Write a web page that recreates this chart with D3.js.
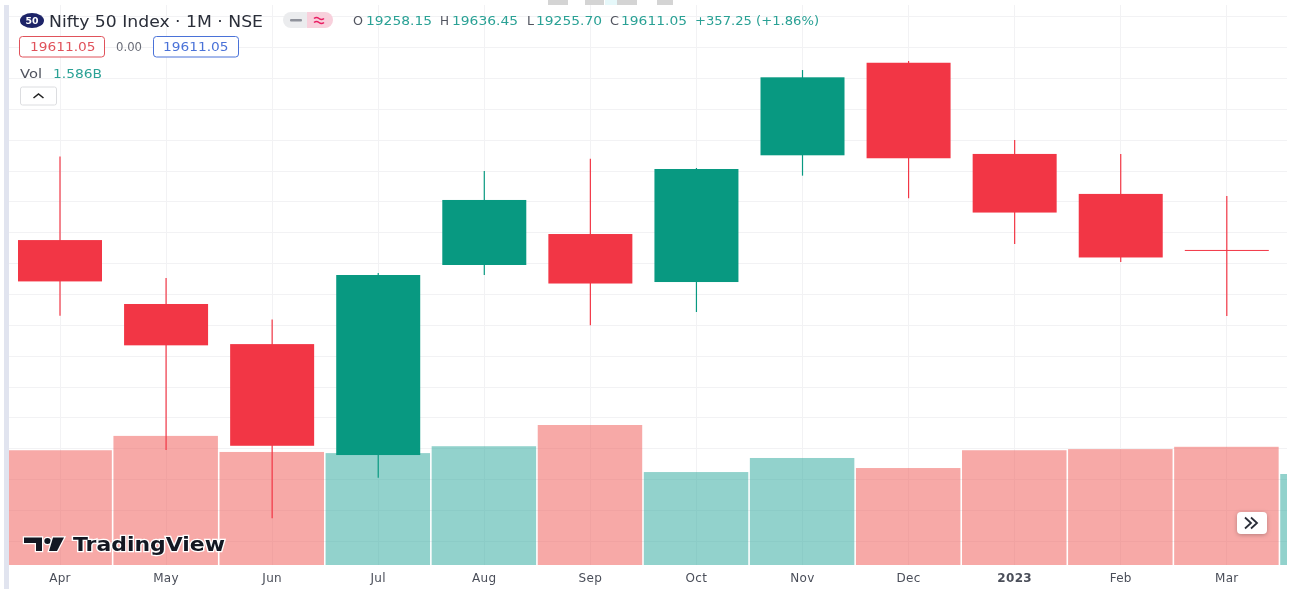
<!DOCTYPE html>
<html><head><meta charset="utf-8">
<script src="https://cdn.jsdelivr.net/npm/d3@7/dist/d3.min.js"></script>
<style>html,body{margin:0;padding:0;background:#fff}svg{display:block;filter:blur(.35px)}text{font-family:"DejaVu Sans",sans-serif}</style>
</head><body><svg id="c" width="1295" height="589"></svg>
<script>
const months=["Apr","May","Jun","Jul","Aug","Sep","Oct","Nov","Dec","2023","Feb","Mar"];
const opens=[17437,16919,16594,15695,17235,17486,17097,18124,18874,18135,17811,17357];
const highs=[18114,17130,16793,17170,17997,18096,18021,18815,18888,18248,18135,17794];
const lows=[16824,15735,15183,15511,17154,16747,16854,17959,17776,17405,17259,16822];
const closes=[17102,16584,15770,17154,17762,17085,18013,18756,18100,17660,17296,17357];
const candleUp=[false,false,false,true,true,false,true,true,false,false,false,false];
const volumes=[2.00,2.25,1.97,1.95,2.07,2.44,1.62,1.865,1.69,2.00,2.02,2.06,1.586];
const volUp=[false,false,false,true,true,false,true,true,false,false,false,false,true];
const gridPrices=d3.range(15000,20001,250);

const svg=d3.select("#c");
const idx=d3.scaleLinear().domain([0,11]).range([60,1226.8]);
const y=d3.scaleLinear().domain([18000,15000]).range([170.6,540.8]);
const yv=d3.scaleLinear().domain([0,1.586]).range([565,474]);
const step=idx(1)-idx(0);
const green="#089981",red="#f23645",teal="#2aa195",tickFill="#4a4e59";

svg.append("rect").attr("x",4).attr("y",5).attr("width",5).attr("height",584).attr("fill","#e1e4ef");
[[548,20],[585,19],[617,20],[657,16]].forEach(d=>svg.append("rect").attr("x",d[0]).attr("y",0).attr("width",d[1]).attr("height",5).attr("fill","#d4d4d4"));
svg.append("rect").attr("x",605).attr("y",0).attr("width",12).attr("height",5).attr("fill","#e6f8fa");

svg.append("defs").append("clipPath").attr("id","plot").append("rect").attr("x",9).attr("y",5).attr("width",1278).attr("height",560);
const plot=svg.append("g").attr("clip-path","url(#plot)");

plot.append("g").selectAll("line").data(gridPrices).join("line")
 .attr("x1",9).attr("x2",1287).attr("y1",d=>Math.round(y(d))+.5).attr("y2",d=>Math.round(y(d))+.5).attr("stroke","#f2f2f4");
plot.append("g").selectAll("line").data(months).join("line")
 .attr("x1",(d,i)=>Math.floor(idx(i))+.5).attr("x2",(d,i)=>Math.floor(idx(i))+.5).attr("y1",5).attr("y2",565).attr("stroke","#f2f2f4");

plot.append("g").selectAll("rect").data(volumes).join("rect")
 .attr("x",(d,i)=>idx(i)-step/2+.4).attr("width",step-1.6)
 .attr("y",d=>yv(d)).attr("height",d=>565-yv(d))
 .attr("fill",(d,i)=>volUp[i]?"#26a69a":"#ef5350").attr("fill-opacity",.5);

const g=plot.append("g").selectAll("g").data(opens).join("g");
g.append("line").attr("x1",(d,i)=>idx(i)).attr("x2",(d,i)=>idx(i))
 .attr("y1",(d,i)=>y(highs[i])).attr("y2",(d,i)=>y(lows[i]))
 .attr("stroke-width",1.2).attr("stroke",(d,i)=>candleUp[i]?green:red);
g.append("rect").attr("x",(d,i)=>idx(i)-42).attr("width",84)
 .attr("y",(d,i)=>y(Math.max(d,closes[i])))
 .attr("height",(d,i)=>Math.max(1,Math.abs(y(d)-y(closes[i]))))
 .attr("fill",(d,i)=>candleUp[i]?green:red);

svg.append("g").selectAll("text").data(months).join("text")
 .attr("x",(d,i)=>idx(i)).attr("y",582).attr("text-anchor","middle").attr("font-size",12).attr("letter-spacing",.3)
 .attr("font-weight",d=>d==="2023"?"bold":"normal").attr("fill",tickFill).text(d=>d);

// text stretched to the measured width (the screenshot is widened horizontally)
function txt(x,yy,size,fill,s,w,weight){
 return svg.append("text").attr("x",x).attr("y",yy).attr("font-size",size).attr("fill",fill)
  .attr("font-weight",weight||"normal").attr("textLength",w).attr("lengthAdjust","spacingAndGlyphs").text(s);
}
svg.append("ellipse").attr("cx",32).attr("cy",20.5).attr("rx",12).attr("ry",7.5).attr("fill","#1d2468");
txt(25.5,23.5,8,"#fff","50",13,"bold");
txt(49,26.5,15,"#2a2e39","Nifty 50 Index · 1M · NSE",214);
svg.append("rect").attr("x",283).attr("y",12).attr("width",30).attr("height",16).attr("rx",8).attr("fill","#ebecee");
svg.append("path").attr("d","M307 12h18a8 8 0 0 1 0 16h-18z").attr("fill","#f8d0dc");
svg.append("rect").attr("x",290).attr("y",19).attr("width",12).attr("height",2.5).attr("rx",1).attr("fill","#8f929b");
svg.append("path").attr("d","M314 18.5q2.5-2 5 0t5 0 M314 22.5q2.5-2 5 0t5 0").attr("fill","none").attr("stroke","#e91e63").attr("stroke-width",1.6);
[["O",353,10,"19258.15",366],["H",440,9,"19636.45",452],["L",527,7,"19255.70",536],["C",610,9,"19611.05",621]].forEach(d=>{
 txt(d[1],25,12.5,"#50535e",d[0],d[2]);
 txt(d[4],25,12.5,teal,d[3],66);
});
txt(695,25,12.5,teal,"+357.25 (+1.86%)",124);
[[19.5,85,"#e0525b",30],[153.5,85,"#4a72d8",163]].forEach(d=>{
 svg.append("rect").attr("x",d[0]).attr("y",36.5).attr("width",d[1]).attr("height",20.5).attr("rx",3).attr("fill","#fff").attr("stroke",d[2]);
 txt(d[3],51,12.5,d[2],"19611.05",65.5);
});
txt(116,51,11.5,"#6a6d78","0.00",26);
txt(20,78,12,"#50535e","Vol",22);
txt(53,78,12.5,teal,"1.586B",49);
svg.append("rect").attr("x",20.5).attr("y",87).attr("width",36).attr("height",18).attr("rx",2).attr("fill","#fff").attr("stroke","#dcdde0");
svg.append("path").attr("d","M33.5 98 L38.5 94 L43.5 98").attr("fill","none").attr("stroke","#222").attr("stroke-width",1.6);

// logo
const logo=svg.append("g").attr("fill","#131722").attr("stroke","#fff").attr("stroke-width",2.5).attr("paint-order","stroke");
logo.append("path").attr("d","M24 537.5h18v13.5h-6v-8h-12z");
logo.append("ellipse").attr("cx",47.5).attr("cy",541).attr("rx",3.2).attr("ry",3);
logo.append("path").attr("d","M53 537.5h11l-7 13.5h-8z");
logo.append("text").attr("x",73).attr("y",551).attr("font-size",20).attr("font-weight","bold").attr("font-family","Inter")
 .attr("textLength",152).attr("lengthAdjust","spacingAndGlyphs").text("TradingView");

// scroll button
svg.append("rect").attr("x",1237).attr("y",512).attr("width",30).attr("height",22).attr("rx",4).attr("fill","#fff").attr("style","filter:drop-shadow(0 1px 2px rgba(0,0,0,.25))");
svg.append("path").attr("d","M1245 517.5 L1251 523 L1245 528.5 M1251 517.5 L1257 523 L1251 528.5").attr("fill","none").attr("stroke","#2a2e39").attr("stroke-width",1.8);
</script></body></html>
